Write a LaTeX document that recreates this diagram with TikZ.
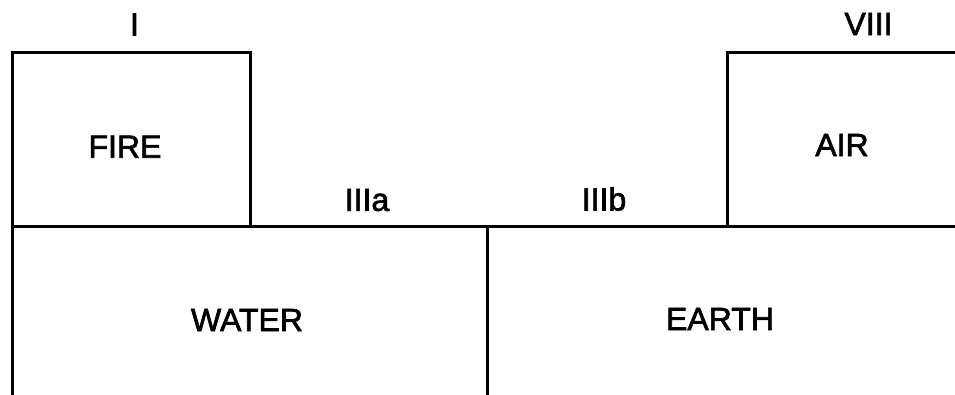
\documentclass[tikz,border=0pt]{standalone}
\usepackage{fontspec}
\setmainfont{Liberation Sans}
\newfontfamily\lblfont[FakeBold=2]{Liberation Sans}
\tikzset{
  wall/.style={line width=3pt, line cap=rect, black},
  lbl/.style={font=\lblfont\fontsize{32}{36}\selectfont, inner sep=0pt, anchor=center}
}
\begin{document}
\begin{tikzpicture}[x=1pt,y=-1pt]
\useasboundingbox (0,0) rectangle (955,395);
% corner coordinates
\coordinate (fireTL) at (12,53);
\coordinate (fireTR) at (250,53);
\coordinate (fireBR) at (250,227);
\coordinate (airTL) at (727,53);
\coordinate (airTR) at (955,53);
\coordinate (airBL) at (727,227);
\coordinate (baseL) at (12,227);
\coordinate (baseR) at (955,227);
\coordinate (midT) at (487,227);
\coordinate (midB) at (487,395);
\coordinate (leftB) at (12,395);
% lines
\draw[wall] (leftB) -- (fireTL) -- (fireTR) -- (fireBR);
\draw[wall] (baseL) -- (baseR);
\draw[wall] (airBL) -- (airTL) -- (airTR);
\draw[wall] (midT) -- (midB);
% labels
\node[lbl] (lI) at (134.5,24.5) {I};
\node[lbl] (lVIII) at (868.5,24) {VIII};
\node[lbl] (fire) at (125,146.7) {FIRE};
\node[lbl] (air) at (842,145) {AIR};
\node[lbl] (IIIa) at (367,200) {IIIa};
\node[lbl] (IIIb) at (604,199) {IIIb};
\node[lbl] (water) at (247,320) {WATER};
\node[lbl] (earth) at (720,319) {EARTH};
\end{tikzpicture}
\end{document}
